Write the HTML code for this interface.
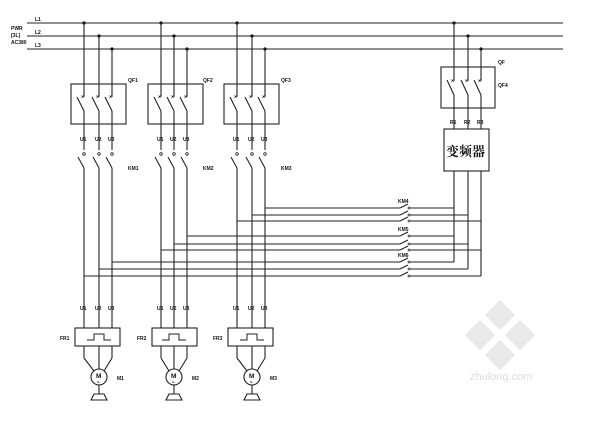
<!DOCTYPE html>
<html><head><meta charset="utf-8"><style>
html,body{margin:0;padding:0;background:#fff;}
svg{display:block;}
text{font-family:"Liberation Sans",sans-serif;font-weight:bold;fill:#111;}
</style></head><body>
<svg width="607" height="423" viewBox="0 0 607 423" xmlns="http://www.w3.org/2000/svg">
<g stroke="#222" stroke-width="1.1" fill="none">
<!-- bus -->
<line x1="27" y1="23" x2="563" y2="23"/>
<line x1="27" y1="36" x2="563" y2="36"/>
<line x1="27" y1="49" x2="563" y2="49"/>
</g>
<text x="35" y="21" font-size="5">L1</text>
<text x="35" y="34" font-size="5">L2</text>
<text x="35" y="47" font-size="5">L3</text>
<text x="11" y="30" font-size="5">PWR</text>
<text x="11" y="37" font-size="5">[3L]</text>
<text x="11" y="44" font-size="5">AC380</text>

<g id="grp" stroke="#222" stroke-width="1.1" fill="none">
</g>
<script>
(function(){
var ns="http://www.w3.org/2000/svg",svg=document.querySelector('svg');
function el(t,a,txt){var e=document.createElementNS(ns,t);for(var k in a)e.setAttribute(k,a[k]);if(txt)e.textContent=txt;svg.appendChild(e);return e;}
function L(x1,y1,x2,y2){el('line',{x1:x1,y1:y1,x2:x2,y2:y2,stroke:'#222','stroke-width':1.1});}
function T(x,y,s,sz){el('text',{x:x,y:y,'font-size':sz||5},s);}
function dot(x,y){el('circle',{cx:x,cy:y,r:1.6,fill:'#111'});}
var busY=[23,36,49];
var groups=[[84,99,112],[161,174,187],[237,252,265]];
var hy=[[262,269,276],[236,244,250],[208,215,221]];
var hyOrder=[[276,269,262],[250,244,236],[221,215,208]];
groups.forEach(function(g,gi){
  el('rect',{x:g[0]-13,y:84,width:55,height:40,fill:'none',stroke:'#222','stroke-width':1.1});
  T(g[2]+16,82,'QF'+(gi+1));
  T(g[2]+16,170,'KM'+(gi+1));
  g.forEach(function(x,i){
    dot(x,busY[i]);
    L(x,busY[i],x,97);
    T(x-3,98.5,'×',5);
    L(x-7,97,x,111);
    L(x,111,x,150);
    T(x-4,141,'U'+(i+1));
    el('circle',{cx:x,cy:154,r:1.3,fill:'none',stroke:'#222','stroke-width':0.8});
    L(x-6,157,x,168);
    L(x,168,x,328);
    T(x-4,310,'U'+(i+1));
    var yy=hyOrder[gi][i];
    L(x,yy,400,yy);
  });
  var cx=g[1];
  el('rect',{x:g[0]-9,y:328,width:45,height:18,fill:'none',stroke:'#222','stroke-width':1.1});
  el('polyline',{points:(cx-12)+',340 '+(cx-5)+',340 '+(cx-5)+',334 '+(cx+5)+',334 '+(cx+5)+',340 '+(cx+12)+',340',fill:'none',stroke:'#222','stroke-width':1});
  T(g[0]-24,340,'FR'+(gi+1));
  L(g[0],346,g[0],358);L(g[0],358,cx-5,371);
  L(g[2],346,g[2],358);L(g[2],358,cx+5,371);
  L(cx,346,cx,369);
  el('circle',{cx:cx,cy:377,r:8,fill:'#fff',stroke:'#222','stroke-width':1.1});
  T(cx-3,378,'M',6.5);T(cx-2,383,'3~',3);
  L(cx,385,cx,394);
  el('polygon',{points:(cx-5)+',394 '+(cx+5)+',394 '+(cx+8)+',400 '+(cx-8)+',400',fill:'none',stroke:'#222','stroke-width':1.1});
  T(cx+18,380,'M'+(gi+1));
});
// VFD
var vx=[454,468,481];
el('rect',{x:441,y:67,width:54,height:41,fill:'none',stroke:'#222','stroke-width':1.1});
T(498,64,'QF');T(498,87,'QF4');
vx.forEach(function(x,i){
  dot(x,busY[i]);L(x,busY[i],x,81);T(x-3,82.5,'×');L(x-7,80,x,95);L(x,95,x,129);
  T(x-4,124,'R'+(i+1));
});
el('rect',{x:444,y:129,width:45,height:42,fill:'none',stroke:'#222','stroke-width':1.1});
el('text',{x:446,y:156,'font-size':13,style:'font-family:"Liberation Serif","Noto Serif CJK SC",serif;font-weight:bold'},'变频器');
var rowsAll=[[208,215,221],[236,244,250],[262,269,276]];
rowsAll.forEach(function(r,ri){
  T(398,[203,231,257][ri],'KM'+(ri+4));
  r.forEach(function(y,i){
    L(400,y,400,y);L(400,y,408,y-4);
    el('circle',{cx:409,cy:y,r:1,fill:'none',stroke:'#222','stroke-width':0.7});
    L(410,y,vx[i],y);
  });
});
vx.forEach(function(x,i){L(x,171,x,rowsAll[2][i]);});
})();
</script>
<g fill="#e4e4e4" opacity="0.8">
<polygon points="500,300 515,315 500,330 485,315"/>
<polygon points="480,320 495,335 480,350 465,335"/>
<polygon points="520,320 535,335 520,350 505,335"/>
<polygon points="500,340 515,355 500,370 485,355"/>
</g>
<text x="470" y="380" font-size="11" style="fill:#ddd;font-weight:normal">zhulong.com</text>
</svg>
</body></html>
